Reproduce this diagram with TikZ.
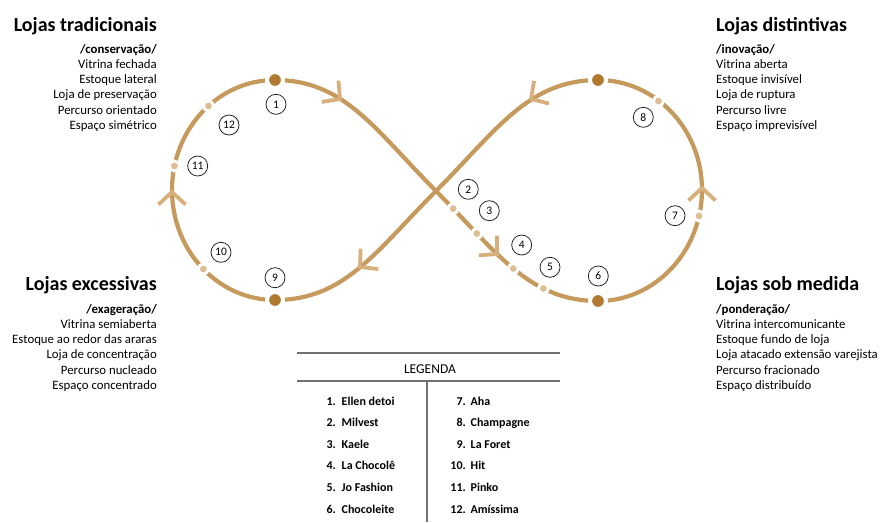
\documentclass[tikz,border=0pt]{standalone}
\usepackage{fontspec}
\setmainfont{Carlito}
\definecolor{trail}{HTML}{C69A5D}
\definecolor{trailtip}{HTML}{D6AF7A}
\definecolor{stopdark}{HTML}{B07A30}
\definecolor{stoplight}{HTML}{DDBD92}
\definecolor{rulegray}{HTML}{707070}
\tikzset{
  trailline/.style={draw=trail,line width=4.2pt},
  bigstop/.style={circle,fill=stopdark,draw=white,line width=4pt,minimum size=16pt,inner sep=0pt},
  smallstop/.style={circle,fill=stoplight,draw=white,line width=2.8pt,minimum size=10pt,inner sep=0pt},
  numtag/.style={circle,draw=black!85,line width=0.8pt,minimum size=20pt,inner sep=0pt,font=\fontsize{11.5}{11.5}\selectfont},
  chev/.pic={\draw[trailtip,line width=3.8pt] (-12.5pt,13.5pt) -- (0,0) -- (-12.5pt,-13.5pt);},
  headtxt/.style={font=\fontsize{20}{20}\selectfont\bfseries,inner sep=0pt},
  bodytxt/.style={font=\fontsize{12.8}{15}\selectfont,inner sep=0pt},
  legtxt/.style={font=\fontsize{12}{12}\selectfont\bfseries,inner sep=0pt},
  legrule/.style={draw=rulegray,line width=1.1pt}
}
\begin{document}
\begin{tikzpicture}[x=1pt,y=-1pt]
\fill[white] (0,0) rectangle (881,522);
% the loop
\coordinate (T1) at (275,80);
\coordinate (B1) at (275,300);
\coordinate (L) at (172,190);
\coordinate (C) at (436,191);
\coordinate (T2) at (598,80);
\coordinate (B2) at (598,301);
\coordinate (R) at (702,190);
\draw[trailline] (T1) .. controls +(70,0) and +(-60,-60) .. (C)
  .. controls +(60,60) and +(-70,0) .. (B2)
  .. controls +(57.4,0) and +(0,61) .. (R)
  .. controls +(0,-61) and +(57.4,0) .. (T2)
  .. controls +(-70,0) and +(60,-60) .. (C)
  .. controls +(-60,60) and +(70,0) .. (B1)
  .. controls +(-56.9,0) and +(0,61) .. (L)
  .. controls +(0,-61) and +(-56.9,0) .. (T1) -- cycle;
% arrow marks
\pic[rotate=-38] at (340,99) {chev};
\pic[rotate=-43] at (497,254) {chev};
\pic[rotate=90] at (702,188) {chev};
\pic[rotate=213] at (531,99) {chev};
\pic[rotate=221] at (360,267) {chev};
\pic[rotate=90] at (172,192) {chev};
% stops
\node[bigstop] (d1) at (T1) {};
\node[bigstop] (d9) at (B1) {};
\node[bigstop] (d8) at (T2) {};
\node[bigstop] (d6) at (B2) {};
\foreach \p [count=\i] in {(208.5,106),(174.5,166),(203.3,269),(453.2,208.6),(476.8,233.5),
    (513.3,268.5),(543.4,288.5),(699,216),(658.5,101)}
  \node[smallstop] (s\i) at \p {};
% store numbers
\foreach \n/\p in {1/{(276,104.3)},2/{(468.3,189.3)},3/{(489.3,210.7)},4/{(521.7,245)},
    5/{(550,267.3)},6/{(598.3,276)},7/{(675,215.7)},8/{(643.3,117.3)},
    9/{(275,277.7)},10/{(221,252.3)},11/{(197.7,166)},12/{(229,125)}}
  \node[numtag] (n\n) at \p {\n};
% the four store types
\node[headtxt,anchor=base east] (tradic) at (157,31) {Lojas tradicionais};
\foreach \t [count=\i from 0] in {{\bfseries /conservação/},Vitrina fechada,Estoque lateral,
    Loja de preservação,Percurso orientado,Espaço simétrico}
  \node[bodytxt,anchor=base east] (tradic\i) at (157,53+15.25*\i) {\t};
\node[headtxt,anchor=base west] (distint) at (716,31) {Lojas distintivas};
\foreach \t [count=\i from 0] in {{\bfseries /inovação/},Vitrina aberta,Estoque invisível,
    Loja de ruptura,Percurso livre,Espaço imprevisível}
  \node[bodytxt,anchor=base west] (distint\i) at (716,53+15.25*\i) {\t};
\node[headtxt,anchor=base east] (excess) at (157,290) {Lojas excessivas};
\foreach \t [count=\i from 0] in {{\bfseries /exageração/},Vitrina semiaberta,Estoque ao redor das araras,
    Loja de concentração,Percurso nucleado,Espaço concentrado}
  \node[bodytxt,anchor=base east] (excess\i) at (157,313+15.25*\i) {\t};
\node[headtxt,anchor=base west] (medida) at (716,290.5) {Lojas sob medida};
\foreach \t [count=\i from 0] in {{\bfseries /ponderação/},Vitrina intercomunicante,Estoque fundo de loja,
    Loja atacado extensão varejista,Percurso fracionado,Espaço distribuído}
  \node[bodytxt,anchor=base west] (medida\i) at (716,313+15.25*\i) {\t};
% legend
\coordinate (lgTL) at (297,353);
\coordinate (lgTR) at (560,353);
\coordinate (lgML) at (297,381);
\coordinate (lgMR) at (560,381);
\coordinate (lgTop) at (427,381);
\coordinate (lgBot) at (427,522);
\draw[legrule] (lgTL) -- (lgTR);
\draw[legrule] (lgML) -- (lgMR);
\draw[legrule] (lgTop) -- (lgBot);
\node[font=\fontsize{13.5}{13.5}\selectfont,inner sep=0pt,anchor=base] (legenda) at (430,373.5) {LEGENDA};
\foreach \n/\s [count=\i from 0] in {1/Ellen detoi,2/Milvest,3/Kaele,4/La Chocolê,5/Jo Fashion,6/Chocoleite}{
  \node[legtxt,anchor=base east] (ln\n) at (336,405+21.65*\i) {\n.};
  \node[legtxt,anchor=base west] (ls\n) at (341.5,405+21.65*\i) {\s};
}
\foreach \n/\s [count=\i from 0] in {7/Aha,8/Champagne,9/La Foret,10/Hit,11/Pinko,12/Amíssima}{
  \node[legtxt,anchor=base east] (ln\n) at (466,405+21.65*\i) {\n.};
  \node[legtxt,anchor=base west] (ls\n) at (470.5,405+21.65*\i) {\s};
}
\end{tikzpicture}
\end{document}
